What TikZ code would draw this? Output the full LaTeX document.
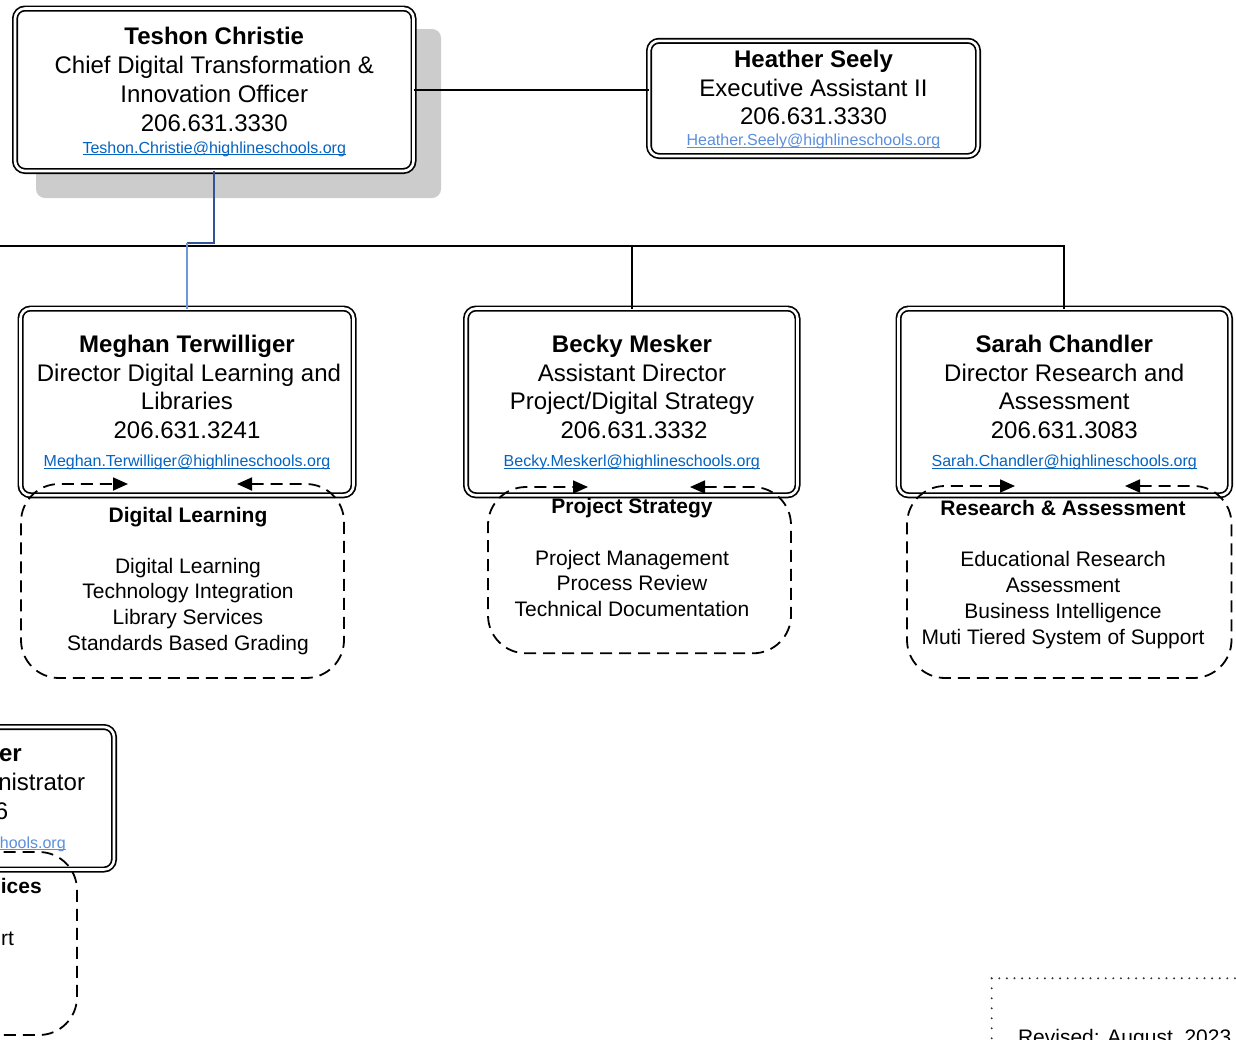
\documentclass[tikz,border=0pt]{standalone}
\usepackage{fontspec}
\setmainfont{Liberation Sans}
\usetikzlibrary{arrows.meta}
\definecolor{maildark}{HTML}{0563C1}
\definecolor{maillight}{HTML}{5B8FDB}
\definecolor{bluedark}{HTML}{2F5597}
\definecolor{bluelight}{HTML}{6A98D8}
\definecolor{shadowgray}{HTML}{CCCCCC}
\newcommand\fbig{\fontsize{24}{29}\selectfont}
\newcommand\fmid{\fontsize{21}{25.7}\selectfont}
\newcommand\fsmall{\fontsize{16}{19}\selectfont}
\newcommand\mailnode[5]{%
  \node[mail, text=#4] (#1) at (#2,#3) {#5};
  \draw[#4, line width=0.9pt] ([yshift=-1.6pt]#1.base west) -- ([yshift=-1.6pt]#1.base east);}
\tikzset{
  pbox/.style={draw=black, double=white, line width=1.7pt, double distance=2.6pt,
    rounded corners=10pt, fill=white, inner sep=0pt, outer sep=0pt},
  shadowbox/.style={fill=shadowgray, rounded corners=9pt, inner sep=0pt, outer sep=0pt},
  conn/.style={draw=black, line width=1.9pt},
  grp/.style={draw=black, line width=1.8pt, dash pattern=on 12pt off 7pt, rounded corners=38pt,
    arrows={Triangle[length=15pt,width=13pt]-Triangle[length=15pt,width=13pt]}},
  dotbox/.style={draw=black!80, line width=2.2pt, line cap=round},
  txt/.style={inner sep=0pt, outer sep=0pt, anchor=base, text=black},
  big/.style={txt, font=\fbig},
  bigb/.style={txt, font=\fbig\bfseries},
  mid/.style={txt, font=\fmid},
  midb/.style={txt, font=\fmid\bfseries},
  mail/.style={txt, font=\fsmall},
}
\begin{document}
\begin{tikzpicture}[x=1pt, y=-1pt]
\useasboundingbox (0,0) rectangle (1236,1039);
\clip (0,0) rectangle (1236,1039);
\fill[white] (0,0) rectangle (1236,1039);

% ---- boxes ----
\node[shadowbox, minimum width=405pt, minimum height=169pt] (tshadow) at (238.5,113.5) {};
\node[pbox, minimum width=398.5pt, minimum height=162.5pt] (teshon) at (214.25,89.75) {};
\node[pbox, minimum width=329pt, minimum height=115.2pt] (heather) at (813.5,98.4) {};
\node[pbox, minimum width=333pt, minimum height=186.8pt] (meghan) at (187,401.9) {};
\node[pbox, minimum width=331.5pt, minimum height=186.8pt] (becky) at (631.75,401.9) {};
\node[pbox, minimum width=331.5pt, minimum height=186.8pt] (sarah) at (1064.25,401.9) {};
\node[pbox, minimum width=333pt, minimum height=142.5pt] (partial) at (-52.5,798.25) {};

% ---- connectors ----
\draw[conn] (teshon.east) -- (teshon.east -| heather.west);
\coordinate (bus) at (0,245.7);
\draw[conn] (bus) -| (sarah.north);
\draw[conn] (becky.north) -- (becky.north |- bus);
\coordinate (bend1) at (214.25,243.3);
\coordinate (bend2) at (187,243.3);
\draw[bluedark, line width=1.8pt] (teshon.south) -- (bend1) -- (bend2);
\draw[bluelight, line width=1.6pt] (bend2) -- (meghan.north);

% ---- dashed groups ----
\draw[grp] (237,484) -- (344,484) -- (344,678) -- (21,678) -- (21,484) -- (128,484);
\draw[grp] (690,487) -- (791,487) -- (791,653.3) -- (488,653.3) -- (488,487) -- (588,487);
\draw[grp] (1125,486) -- (1231.5,486) -- (1231.5,678) -- (907,678) -- (907,486) -- (1015,486);
\draw[grp] (-30,852) -- (77,852) -- (77,1035) -- (-246,1035) -- (-246,852) -- (-139,852);

% ---- dotted box ----
\draw[dotbox, dash pattern=on 0pt off 7.6pt] (991.7,978.3) -- (1240,978.3);
\draw[dotbox, dash pattern=on 0pt off 10pt] (991.7,978.3) -- (991.7,1045);

% ---- Teshon ----
\node[bigb] (t1) at (214.25,44.5) {Teshon Christie};
\node[big] (t2) at (214.25,73) {Chief Digital Transformation \&};
\node[big] (t3) at (214.25,102) {Innovation Officer};
\node[big] (t4) at (214.25,131) {206.631.3330};
\mailnode{t5}{214.25}{153}{maildark}{Teshon.Christie@highlineschools.org}

% ---- Heather ----
\node[bigb] (h1) at (813.5,67) {Heather Seely};
\node[big] (h2) at (813.5,96) {Executive Assistant II};
\node[big] (h3) at (813.5,124.5) {206.631.3330};
\mailnode{h4}{813.5}{145.5}{maillight}{Heather.Seely@highlineschools.org}

% ---- Meghan ----
\node[bigb] (m1) at (187,352) {Meghan Terwilliger};
\node[big] (m2) at (189,381) {Director Digital Learning and};
\node[big] (m3) at (187,409) {Libraries};
\node[big] (m4) at (187,438) {206.631.3241};
\mailnode{m5}{187}{466.5}{maildark}{Meghan.Terwilliger@highlineschools.org}

% ---- Becky ----
\node[bigb] (b1) at (632,352) {Becky Mesker};
\node[big] (b2) at (632,381) {Assistant Director};
\node[big] (b3) at (632,409) {Project/Digital Strategy};
\node[big] (b4) at (634,438) {206.631.3332};
\mailnode{b5}{631.75}{466.5}{maildark}{Becky.Meskerl@highlineschools.org}

% ---- Sarah ----
\node[bigb] (s1) at (1064.25,352) {Sarah Chandler};
\node[big] (s2) at (1064.25,381) {Director Research and};
\node[big] (s3) at (1064.25,409) {Assessment};
\node[big] (s4) at (1064.25,438) {206.631.3083};
\mailnode{s5}{1064.25}{466.5}{maildark}{Sarah.Chandler@highlineschools.org}

% ---- groups text ----
\node[midb] (g1) at (188,522) {Digital Learning};
\node[mid] (g2) at (188,573) {Digital Learning};
\node[mid] (g3) at (188,598.8) {Technology Integration};
\node[mid] (g4) at (188,624.5) {Library Services};
\node[mid] (g5) at (188,650) {Standards Based Grading};

\node[midb] (p1) at (632,513) {Project Strategy};
\node[mid] (p2) at (632,565.3) {Project Management};
\node[mid] (p3) at (632,590.3) {Process Review};
\node[mid] (p4) at (632,616) {Technical Documentation};

\node[midb] (r1) at (1063,515.8) {Research \& Assessment};
\node[mid] (r2) at (1063,566.6) {Educational Research};
\node[mid] (r3) at (1063,592.6) {Assessment};
\node[mid] (r4) at (1063,618.1) {Business Intelligence};
\node[mid] (r5) at (1063,644) {Muti Tiered System of Support};

% ---- partial box fragments ----
\node[bigb, anchor=base east] (x1) at (21.7,761.5) {er};
\node[big, anchor=base east] (x2) at (85,790.8) {nistrator};
\node[big, anchor=base east] (x3) at (8.3,819.3) {6};
\node[mail, text=maillight, anchor=base east] (x4) at (65.7,848.3) {hools.org};
\draw[maillight, line width=0.9pt] ([yshift=-1.6pt]x4.base west) -- ([yshift=-1.6pt]x4.base east);
\node[midb, anchor=base east] (x5) at (41.7,893.3) {ices};
\node[mid, anchor=base east] (x6) at (14,945) {rt};

% ---- revised ----
\node[mid, anchor=base west] (rev) at (1018,1044) {Revised: August, 2023};
\end{tikzpicture}
\end{document}
